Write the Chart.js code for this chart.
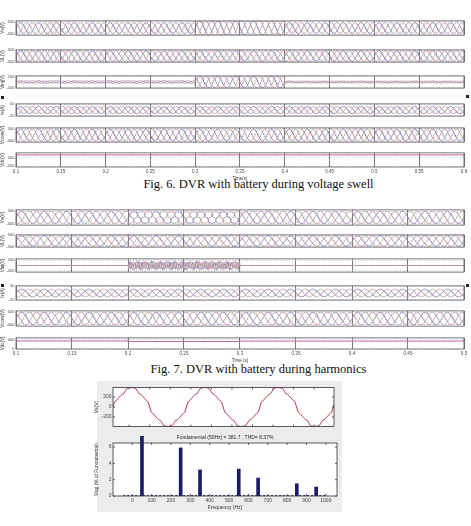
<!DOCTYPE html>
<html>
<head>
<meta charset="utf-8">
<script src="https://cdn.jsdelivr.net/npm/chart.js@4.4.0/dist/chart.umd.min.js"></script>
<style>
body { margin: 0; background: #fff; width: 471px; height: 526px; position: relative; overflow: hidden; }
.cap { position: absolute; left: 23px; width: 471px; text-align: center; font-family: "Liberation Serif", serif; font-size: 12.5px; color: #111; white-space: nowrap; }
.dot { position: absolute; width: 3px; height: 3px; background: #222; }
#fftbg { position: absolute; left: 97px; top: 381px; width: 245px; height: 131px; background: #ececec; }
</style>
</head>
<body>
<div id="fftbg"></div>
<div class="cap" style="top:177px">Fig. 6. DVR with battery during voltage swell</div>
<div class="cap" style="top:362px">Fig. 7. DVR with battery during harmonics</div>
<div class="dot" style="left:1px;top:96px"></div>
<div class="dot" style="left:466px;top:95px"></div>
<div class="dot" style="left:1px;top:284px"></div>
<div class="dot" style="left:466px;top:284px"></div>
<script>
// sine lookup, 0..90 deg in 7.5 deg steps (48 samples per 50 Hz cycle)
const sineQuarter = [0, 0.131, 0.259, 0.383, 0.5, 0.609, 0.707, 0.793, 0.866, 0.924, 0.966, 0.991, 1];
const phaseShift = [0, 32, 16];
const phaseColors = ['#857cb2', '#a8a8a8', '#c4949f'];

// Fig. 6 - voltage swell (segments: before / during / after swell)
const swellEdges = [0.1, 0.3, 0.4, 0.6];
const swellVs = [430, 560, 430];
const swellVL = [440, 440, 440];
const swellVinj = [22, 105, 18];
const swellIs = [30, 30, 30];
const swellVconv = [470, 470, 470];
const swellVdc = [340, 340, 340];

// Fig. 7 - harmonics (segments: before / during / after distortion)
const harmEdges = [0.1, 0.2, 0.3, 0.5];
const harmVs = [470, 470, 470];
const harmVL = [450, 450, 450];
const harmOn = [0, 1, 0];
const harmOrders = [5, 7];
const harmVsMags = [60, 35];
const harmInjMags = [100, 60];
const harmIs = [28, 28, 28];
const harmVconv = [490, 490, 490];
const harmVdc = [340, 315, 335];

// FFT of the distorted source voltage
const fftFreq = [50, 250, 350, 550, 650, 850, 950];
const fftMag = [100, 5.9, 3.2, 3.3, 2.2, 1.5, 1.1];
const fundamental = 381.7;
const thd = 8.37;
const vsTickMs = [4.4, 10, 15.6, 21.2, 26.8, 32.4, 38, 43.6, 49.2, 54.8];
const freqTicks = [0, 100, 200, 300, 400, 500, 600, 700, 800, 900, 1000];

const N = 48;
const sineTable = [];
for (let k = 0; k < N; k++) {
  const q = k % 24;
  const v = q <= 12 ? sineQuarter[q] : sineQuarter[24 - q];
  sineTable.push(k < 24 ? v : -v);
}

function phaseWave(t0, t1, edges, amps, ph, harm) {
  const pts = [];
  const count = Math.round((t1 - t0) / 0.02 * N);
  for (let i = 0; i <= count; i++) {
    const t = t0 + i * 0.02 / N;
    let s = 0;
    while (s < amps.length - 1 && t >= edges[s + 1] - 1e-9) s++;
    let y = amps[s] * sineTable[(i + ph) % N];
    if (harm) {
      harm.orders.forEach((n, j) => {
        y += harm.sign * harmOn[s] * harm.mags[j] * sineTable[(n * (i + ph)) % N];
      });
    }
    pts.push({ x: t, y: y });
  }
  return pts;
}

function threePhase(t0, t1, edges, amps, harm) {
  return [2, 1, 0].map(p => ({
    data: phaseWave(t0, t1, edges, amps, phaseShift[p], harm),
    borderColor: phaseColors[p],
    borderWidth: 0.75,
    pointRadius: 0
  }));
}

function stepLine(edges, levels, color) {
  const pts = [];
  levels.forEach((v, s) => { pts.push({ x: edges[s], y: v }, { x: edges[s + 1], y: v }); });
  return [{ data: pts, borderColor: color, borderWidth: 1, pointRadius: 0 }];
}

const boxPlugin = {
  id: 'box',
  beforeDraw(chart, args, o) {
    if (!o.fill) return;
    const c = chart.chartArea, ctx = chart.ctx;
    ctx.save();
    ctx.fillStyle = o.fill;
    ctx.fillRect(c.left, c.top, c.right - c.left, c.bottom - c.top);
    ctx.restore();
  },
  afterDraw(chart, args, o) {
    const c = chart.chartArea, ctx = chart.ctx;
    ctx.save();
    ctx.strokeStyle = o.color || '#555';
    ctx.lineWidth = o.width || 0.8;
    ctx.strokeRect(c.left, c.top, c.right - c.left, c.bottom - c.top);
    if (o.inTicks) {
      const L = o.inTicks;
      ctx.beginPath();
      chart.scales.x.ticks.forEach(t => {
        const px = chart.scales.x.getPixelForValue(t.value);
        ctx.moveTo(px, c.bottom); ctx.lineTo(px, c.bottom - L);
        ctx.moveTo(px, c.top); ctx.lineTo(px, c.top + L);
      });
      chart.scales.y.ticks.forEach(t => {
        const py = chart.scales.y.getPixelForValue(t.value);
        ctx.moveTo(c.left, py); ctx.lineTo(c.left + L, py);
        ctx.moveTo(c.right, py); ctx.lineTo(c.right - L, py);
      });
      ctx.stroke();
    }
    if (o.title) {
      ctx.fillStyle = '#222';
      ctx.font = '5px "Liberation Sans", Arial, sans-serif';
      ctx.textAlign = 'center';
      ctx.fillText(o.title, (c.left + c.right) / 2, c.top - 4);
    }
    ctx.restore();
  }
};
Chart.register(boxPlugin);

const font = (s) => ({ size: s, family: '"Liberation Sans", Arial, sans-serif' });
const tickText = (v) => String(Math.round(v * 1000) / 1000);

function panel(spec) {
  const cl = spec.cLeft || 0, cw = spec.cWidth || 471;
  const padT = spec.padT || 3, padB = 3, xh = spec.xAxisH || 0;
  const boxH = spec.box[3] - spec.box[1];
  const cv = document.createElement('canvas');
  cv.width = cw;
  cv.height = boxH + padT + xh + padB;
  cv.style.cssText = 'position:absolute;left:' + cl + 'px;top:' + (spec.box[1] - padT) + 'px';
  document.body.appendChild(cv);
  const yw = spec.box[0] - cl;
  return new Chart(cv, {
    type: spec.type || 'line',
    data: { datasets: spec.datasets },
    options: {
      responsive: false,
      animation: false,
      events: [],
      parsing: false,
      layout: { autoPadding: false, padding: { left: 0, top: padT, right: cl + cw - spec.box[2], bottom: padB } },
      plugins: { legend: { display: false }, tooltip: { enabled: false }, box: spec.boxOpts || {} },
      scales: {
        x: {
          type: 'linear', min: spec.x[0], max: spec.x[1],
          afterFit: s => { s.height = xh; },
          afterBuildTicks: s => { s.ticks = spec.xTicks.map(v => ({ value: v })); },
          border: { display: false },
          grid: spec.xGrid === false ? { display: false, drawTicks: false } : { color: '#5a5a5a', lineWidth: 0.8, drawTicks: false },
          ticks: { display: !!spec.xLabels, font: font(spec.tickSize || 4.5), color: '#444', padding: 2, maxRotation: 0, autoSkip: false, callback: tickText },
          title: { display: !!spec.xTitle, text: spec.xTitle || '', font: font(spec.tickSize || 4.5), color: '#333', padding: 0 }
        },
        y: {
          min: spec.y[0], max: spec.y[1],
          afterFit: s => { s.width = yw; },
          afterBuildTicks: s => { s.ticks = spec.yTicks.map(v => ({ value: v })); },
          border: { display: false, dash: [1, 2] },
          grid: spec.yGrid === false ? { display: false, drawTicks: false } : { color: '#aaa', lineWidth: 0.6, drawTicks: false },
          ticks: { font: font(spec.tickSize || 4), color: '#444', padding: 1.5, callback: tickText },
          title: { display: true, text: spec.yTitle, font: font(spec.titleSize || 4.5), color: '#333', padding: 0 }
        }
      }
    }
  });
}

const swellTicks = [0.1, 0.15, 0.2, 0.25, 0.3, 0.35, 0.4, 0.45, 0.5, 0.55, 0.6];
const harmTicks = [0.1, 0.15, 0.2, 0.25, 0.3, 0.35, 0.4, 0.45, 0.5];
const harmVsSpec = { orders: harmOrders, mags: harmVsMags, sign: -1 };
const harmInjSpec = { orders: harmOrders, mags: harmInjMags, sign: 1 };

// Fig. 6
const f6 = [
  { box: [16, 20, 464, 36], y: [-570, 570], yTicks: [-500, 0, 500], yTitle: 'Vs(V)', datasets: threePhase(0.1, 0.6, swellEdges, swellVs) },
  { box: [16, 49, 464, 63], y: [-520, 520], yTicks: [-500, 0, 500], yTitle: 'VL(V)', datasets: threePhase(0.1, 0.6, swellEdges, swellVL) },
  { box: [16, 75, 464, 89], y: [-110, 110], yTicks: [-100, 0, 100], yTitle: 'Vinj(V)', datasets: threePhase(0.1, 0.6, swellEdges, swellVinj) },
  { box: [16, 103, 464, 117], y: [-52, 52], yTicks: [-50, 0, 50], yTitle: 'Is(A)', datasets: threePhase(0.1, 0.6, swellEdges, swellIs) },
  { box: [16, 127, 464, 143], y: [-570, 570], yTicks: [-500, 0, 500], yTitle: 'Vconv(V)', datasets: threePhase(0.1, 0.6, swellEdges, swellVconv) },
  { box: [16, 152, 464, 167], y: [-240, 440], yTicks: [-200, 0, 200, 400], yTitle: 'Vdc(V)', datasets: stepLine(swellEdges, swellVdc, '#b56aa6'), xLabels: true, xTitle: 'Time(s)', xAxisH: 14 }
];
f6.forEach(p => panel(Object.assign({ x: [0.1, 0.6], xTicks: swellTicks }, p)));

// Fig. 7
const f7 = [
  { box: [16, 209, 464, 226], y: [-590, 590], yTicks: [-500, 0, 500], yTitle: 'Vs(V)', datasets: threePhase(0.1, 0.5, harmEdges, harmVs, harmVsSpec) },
  { box: [16, 234, 464, 248], y: [-530, 530], yTicks: [-500, 0, 500], yTitle: 'VL(V)', datasets: threePhase(0.1, 0.5, harmEdges, harmVL) },
  { box: [16, 258, 464, 273], y: [-240, 240], yTicks: [-200, 0, 200], yTitle: 'Vinj(V)', datasets: threePhase(0.1, 0.5, harmEdges, [0, 0, 0], harmInjSpec) },
  { box: [16, 285, 464, 301], y: [-52, 52], yTicks: [-50, 0, 50], yTitle: 'Is(A)', datasets: threePhase(0.1, 0.5, harmEdges, harmIs) },
  { box: [16, 310, 464, 327], y: [-600, 600], yTicks: [-500, 0, 500], yTitle: 'Vconv(V)', datasets: threePhase(0.1, 0.5, harmEdges, harmVconv) },
  { box: [16, 337, 464, 349], y: [0, 470], yTicks: [0, 200, 400], yTitle: 'Vdc(V)', datasets: stepLine(harmEdges, harmVdc, '#b56aa6'), xLabels: true, xTitle: 'Time (s)', xAxisH: 14 }
];
f7.forEach(p => panel(Object.assign({ x: [0.1, 0.5], xTicks: harmTicks }, p)));

// FFT: time waveform rebuilt from the measured harmonic spectrum
const vsWave = [];
for (let k = 0; k <= 145; k++) {
  let y = 0;
  fftFreq.forEach((f, j) => { y += fftMag[j] / 100 * sineTable[((f / 50) * k) % N]; });
  vsWave.push({ x: k * 20 / N, y: fundamental * y });
}
panel({
  box: [113, 386, 334, 428], cLeft: 94, cWidth: 250,
  x: [0, 60.2], xTicks: vsTickMs, xGrid: false, yGrid: false,
  y: [-390, 390], yTicks: [-200, 0, 200], yTitle: 'Vs(V)', tickSize: 5, titleSize: 5,
  boxOpts: { fill: '#fff', inTicks: 2, color: '#333' },
  datasets: [{ data: vsWave, borderColor: '#b0404c', borderWidth: 1, pointRadius: 0 }]
});

panel({
  type: 'bar',
  box: [113, 443, 337, 496], cLeft: 94, cWidth: 250, padT: 13,
  x: [-47, 1005], xTicks: freqTicks, xGrid: false, yGrid: false, xLabels: true, xTitle: 'Frequency (Hz)', xAxisH: 15,
  y: [0, 6.5], yTicks: [0, 2, 4, 6], yTitle: 'Mag (% of Fundamental)', tickSize: 5, titleSize: 4.8,
  boxOpts: { fill: '#fff', inTicks: 2, color: '#333', title: 'Fundamental (50Hz) = ' + fundamental + ' , THD= ' + thd + '%' },
  datasets: [
    { type: 'bar', data: fftFreq.map((f, j) => ({ x: f, y: fftMag[j] })), backgroundColor: '#1b1b6b', barThickness: 3, clip: { left: 0, top: 7, right: 0, bottom: 0 } },
    { type: 'line', data: [{ x: -47, y: 0.05 }, { x: 1005, y: 0.05 }], borderColor: '#1b1b6b', borderWidth: 1, borderDash: [2, 2], pointRadius: 0 }
  ]
});
</script>
</body>
</html>
